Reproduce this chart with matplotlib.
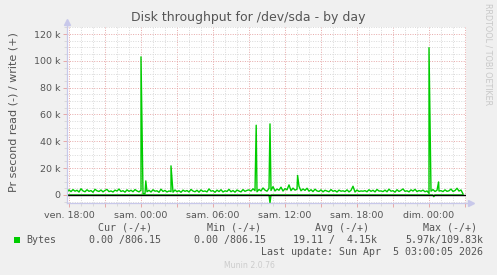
import numpy as np
import matplotlib
matplotlib.use("Agg")
import matplotlib.pyplot as plt
from matplotlib.ticker import MultipleLocator, FuncFormatter

# write baseline (k bytes/s), one sample every 10 minutes from ven. 17:50
base_write_k = [
    2.1, 3.8, 2.5, 4.0, 2.8, 3.5, 2.2, 4.6, 3.0, 2.4, 3.9, 2.7, 3.3, 2.0, 4.2, 3.1, 2.6, 3.7, 2.3,
    3.4, 4.1, 2.5, 3.0, 2.2, 3.6, 2.9, 4.4, 2.6, 3.2, 2.1, 3.8, 2.7, 3.5, 2.4, 4.0, 3.0, 2.3, 3.6, 1.0,
    0.9, 2.4, 3.5, 2.2, 3.9, 2.8, 3.1, 2.0, 4.3, 2.6, 3.4, 2.2, 3.0, 2.5, 2.1, 3.7, 2.4, 3.2, 2.0, 3.6,
    2.7, 3.3, 2.2, 4.1, 2.9, 2.4, 3.5, 2.1, 3.8, 2.6, 3.0, 2.3, 4.5, 2.8, 3.2, 2.0, 3.6, 2.5, 3.9, 2.2,
    3.1, 2.6, 4.2, 2.4, 3.3, 2.1, 3.7, 2.9, 2.3, 4.0, 2.7, 3.4, 3.8, 2.9, 4.6, 3.2, 2.4, 4.1, 3.0, 5.2,
    3.6, 2.8, 4.9, 3.3, 6.2, 3.0, 4.4, 3.5, 5.8, 2.9, 4.7, 3.8, 7.5, 3.2, 5.1, 3.6, 4.2, 6.4, 3.1, 4.5,
    3.4, 5.0, 2.8, 3.9, 2.5, 4.3, 3.0, 2.6, 3.8, 2.3, 3.5, 2.9, 2.4, 4.0, 2.7, 3.3, 2.2, 3.6, 2.8, 3.1,
    2.5, 3.8, 2.3, 3.4, 6.5, 2.2, 3.7, 2.6, 3.0, 2.8, 3.2, 2.4, 3.9, 2.7, 3.5, 2.3, 4.1, 2.9, 3.0, 2.5,
    3.6, 2.4, 4.3, 2.8, 3.2, 2.1, 3.9, 2.6, 3.4, 4.5, 2.7, 3.1, 2.3, 3.8, 2.9, 4.2, 2.5, 3.3, 2.8, 3.6,
    2.4, 3.0, 1.2, 2.8, 4.0, 2.6, 3.5, 2.9, 3.2, 2.5, 3.8, 2.7, 3.1, 4.4, 2.6, 3.3, 5.0, 2.9, 3.7, 0.8,
]
start_hour = 17 + 50 / 60  # hours since ven. 00:00

# short write peaks (hour, k bytes/s)
spike_hours = [24.0, 24.4, 26.5, 33.6, 34.75, 37.05, 48.0, 48.8]
spike_write_k = [103.0, 10.5, 21.7, 52.0, 53.0, 14.5, 109.83, 9.7]

# read is drawn negative; it is zero except for these dips
read_hours = [34.75, 48.4]
read_k = [5.97, 1.3]

tick_hours = [18, 24, 30, 36, 42, 48]
tick_labels = ["ven. 18:00", "sam. 00:00", "sam. 06:00", "sam. 12:00", "sam. 18:00", "dim. 00:00"]

legend_head = ["Cur (-/+)", "Min (-/+)", "Avg (-/+)", "Max (-/+)"]
legend_vals = ["0.00 /806.15", "0.00 /806.15", "19.11 /  4.15k", "5.97k/109.83k"]
last_update = "Last update: Sun Apr  5 03:00:05 2026"

GREEN = "#00cc00"
BG = "#f0f0f0"
TXT = "#555555"
AXC = "#c8c8ea"

# build the series
bt = start_hour + np.arange(len(base_write_k)) / 6
wt = np.concatenate([bt, spike_hours])
wv = np.concatenate([base_write_k, spike_write_k]) * 1000
order = np.argsort(wt, kind="stable")
wt, wv = wt[order], wv[order]

rt = [bt[0]]
rv = [0.0]
for h, v in zip(read_hours, read_k):
    rt += [h - 1 / 12, h, h + 1 / 12]
    rv += [0.0, -v * 1000, 0.0]
rt.append(bt[-1])
rv.append(0.0)

W, H = 497, 275
fig = plt.figure(figsize=(W / 100, H / 100), dpi=100, facecolor=BG)
ax = fig.add_axes([67 / W, 72 / H, (466 - 67) / W, (203 - 27) / H])
ax.set_facecolor("white")

ax.set_xlim(18 + (67 - 69) / 12, 18 + (466 - 69) / 12)
ax.set_ylim(-6000, 125250)

dot = (0, (1, 1.5))
ax.xaxis.set_major_locator(MultipleLocator(3))
ax.xaxis.set_minor_locator(MultipleLocator(1))
ax.yaxis.set_major_locator(MultipleLocator(20000))
ax.yaxis.set_minor_locator(MultipleLocator(5000))
ax.grid(which="minor", color="#d9d9d9", linestyle=dot, linewidth=0.7)
ax.grid(which="major", color="#e6a8a8", linestyle=dot, linewidth=0.7)
ax.set_axisbelow(True)

ax.xaxis.set_major_formatter(FuncFormatter(
    lambda v, p: tick_labels[tick_hours.index(int(round(v)))] if int(round(v)) in tick_hours else ""))
ax.yaxis.set_major_formatter(FuncFormatter(
    lambda v, p: "0" if v == 0 else ("%d k" % (v / 1000) if v > 0 else "")))

ax.tick_params(axis="both", which="major", labelsize=6.8, labelcolor=TXT, length=3, width=0.7,
               color="#e6a8a8", pad=2)
ax.tick_params(axis="both", which="minor", length=2, width=0.7, color="#d9d9d9")
ax.tick_params(axis="x", which="major", pad=3)

for s in ["top", "right"]:
    ax.spines[s].set_visible(False)
for s in ["left", "bottom"]:
    ax.spines[s].set_color(AXC)
    ax.spines[s].set_linewidth(0.9)

# axis arrows
ax.plot([0, 0], [1, 1.03], color=AXC, lw=0.9, transform=ax.transAxes, clip_on=False)
ax.plot([0], [1.03], marker="^", ms=4, color=AXC, transform=ax.transAxes, clip_on=False)
ax.plot([1, 1.012], [0, 0], color=AXC, lw=0.9, transform=ax.transAxes, clip_on=False)
ax.plot([1.012], [0], marker=">", ms=4, color=AXC, transform=ax.transAxes, clip_on=False)

ax.plot(rt, rv, color=GREEN, lw=1.0)
ax.plot(wt, wv, color=GREEN, lw=1.0)
ax.axhline(0, color="black", lw=1.0)

fig.text(248 / W, 1 - 17 / H, "Disk throughput for /dev/sda - by day", ha="center", va="center",
         fontsize=9, color=TXT)
fig.text(14 / W, 1 - 112 / H, "Pr second read (-) / write (+)", rotation=90, ha="center", va="center",
         fontsize=8, color=TXT)
fig.text(488 / W, 1 - 54 / H, "RRDTOOL / TOBI OETIKER", rotation=270, ha="center", va="center",
         fontsize=5.8, color="#c8c8c8")
fig.text(249 / W, 1 - 266 / H, "Munin 2.0.76", ha="center", va="center", fontsize=5.6, color="#cccccc")

mono = dict(family="DejaVu Sans Mono", fontsize=7.2, color=TXT, va="center")
head_x = [98, 207, 315, 423]
val_x = [89, 194, 293, 405]
for x, s in zip(head_x, legend_head):
    fig.text(x / W, 1 - 228 / H, s, **mono)
fig.patches.append(plt.Rectangle((14 / W, 1 - 243 / H), 6 / W, 6 / H, transform=fig.transFigure,
                                 facecolor=GREEN, edgecolor="none"))
fig.text(26 / W, 1 - 240 / H, "Bytes", **mono)
for x, s in zip(val_x, legend_vals):
    fig.text(x / W, 1 - 240 / H, s, **mono)
fig.text(483 / W, 1 - 252 / H, last_update, ha="right", **mono)

fig.savefig("out.png", dpi=100, facecolor=BG)
